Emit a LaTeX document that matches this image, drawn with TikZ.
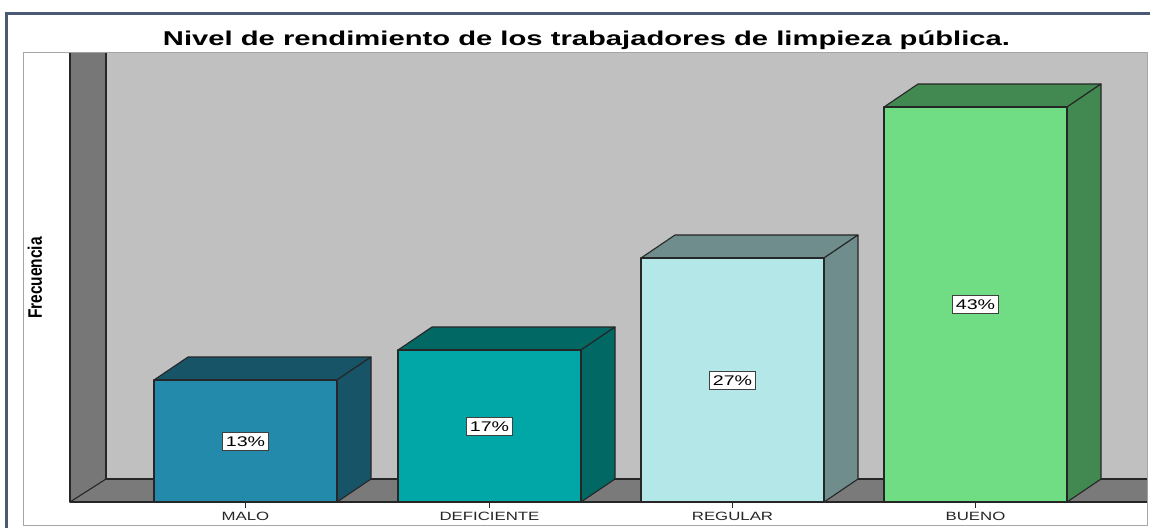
\documentclass[tikz,border=0pt]{standalone}
\usepackage{fontspec}
\setmainfont{Liberation Sans}
\definecolor{frameblue}{HTML}{4B5A74}
\definecolor{bggray}{HTML}{C0C0C0}
\definecolor{wallgray}{HTML}{777777}
\definecolor{floorgray}{HTML}{7A7A7A}
\definecolor{maloF}{HTML}{238AAC}
\definecolor{maloS}{HTML}{175468}
\definecolor{defF}{HTML}{00A7A6}
\definecolor{defS}{HTML}{016864}
\definecolor{regF}{HTML}{B3E7E8}
\definecolor{regS}{HTML}{6E8D8C}
\definecolor{bueF}{HTML}{70DD85}
\definecolor{bueS}{HTML}{428951}
\begin{document}
\begin{tikzpicture}[x=1pt,y=-1pt,
  edge/.style={draw=black!85, line width=1.1pt, line join=round},
  pct/.style={draw=black!75, fill=white, line width=0.9pt, inner xsep=3pt, inner ysep=4pt,
    text height=10pt, text depth=0pt, font=\fontsize{14}{14}\selectfont},
  cat/.style={font=\fontsize{12}{12}\selectfont, text=black!85, inner sep=0pt},
  ttl/.style={font=\fontsize{20}{20}\selectfont\bfseries, inner sep=0pt}]
\clip (0,0) rectangle (1150,527);
\fill[white] (0,0) rectangle (1150,527);
\draw[frameblue, line width=3pt] (6,14) rectangle (1200,600);
\draw[black!35, line width=1pt] (23,53) rectangle (1147,525);
\fill[bggray] (106,53) rectangle (1147,479);
\fill[wallgray] (70,53) -- (106,53) -- (106,479) -- (70,502) -- cycle;
\fill[floorgray] (70,502) -- (106,479) -- (1147,479) -- (1147,502) -- cycle;
\draw[edge] (70,53) -- (70,502) -- (1147,502);
\draw[edge] (106,53) -- (106,479) -- (1147,479);
\draw[edge] (70,502) -- (106,479);
\foreach \name/\xl/\top/\fc/\sc/\lab/\cname in {
  malo/154/380/maloF/maloS/13/MALO,
  def/398/350/defF/defS/17/DEFICIENTE,
  reg/641/258/regF/regS/27/REGULAR,
  bue/884/107/bueF/bueS/43/BUENO}{
  \filldraw[fill=\sc, edge] (\xl,\top) -- ++(34,-23) -- ++(183,0) -- ++(-34,23) -- cycle;
  \filldraw[fill=\sc, edge] ({\xl+183},\top) -- ++(34,-23) -- ({\xl+217},479) -- ({\xl+183},502) -- cycle;
  \filldraw[fill=\fc, edge] (\xl,\top) rectangle ({\xl+183},502);
  \node[pct] (l\name) at ({\xl+91.5},{(\top+502)/2}) {\scalebox{1.4}[1]{\lab\%}};
  \coordinate (t\name) at ({\xl+91.5},502);
  \draw[black!85, line width=1pt] (t\name) -- ++(0,6);
  \node[cat] (c\name) at ({\xl+91.5},516) {\scalebox{1.4}[1]{\cname}};
}
\node[ttl] (title) at (586.5,40) {\scalebox{1.46}[1]{Nivel de rendimiento de los trabajadores de limpieza pública.}};
\node[rotate=90, inner sep=0pt, font=\fontsize{15.5}{15.5}\selectfont\bfseries] (ylab) at (35,278) {\scalebox{1}[1.26]{Frecuencia}};
\end{tikzpicture}
\end{document}
